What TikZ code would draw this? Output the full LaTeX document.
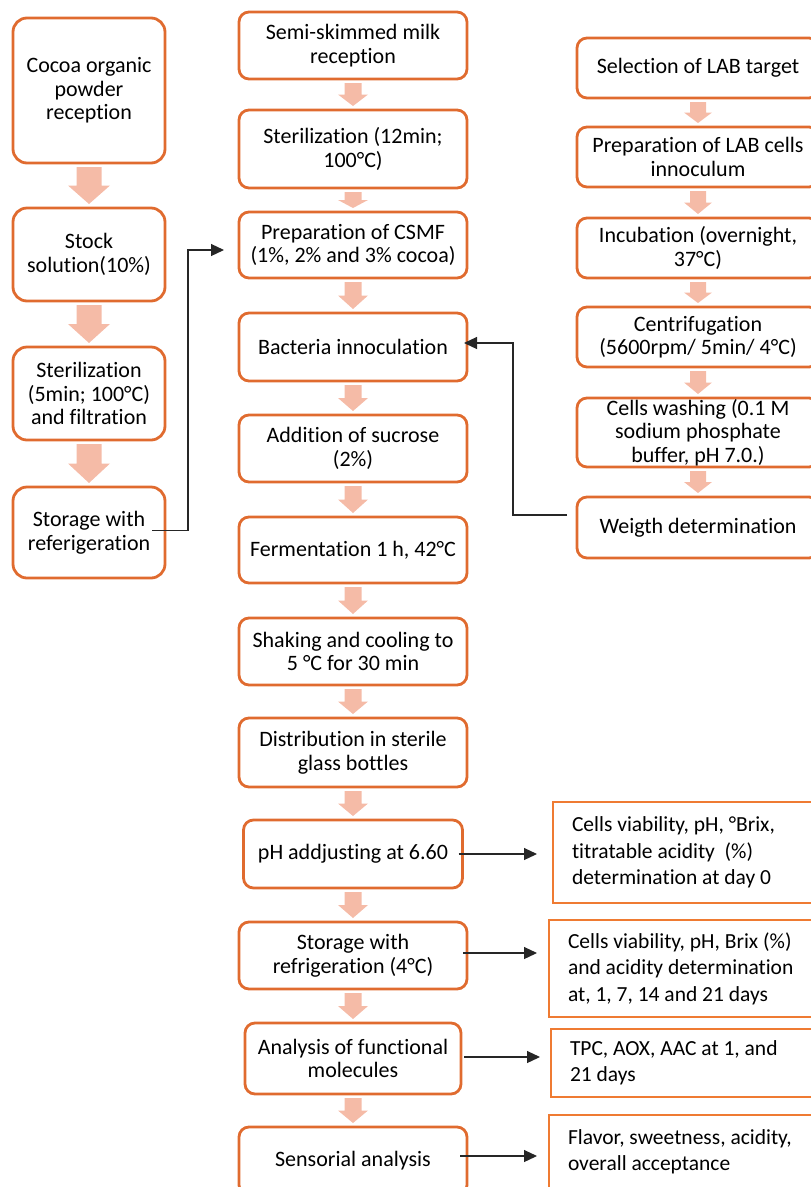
\documentclass[tikz,border=0pt]{standalone}
\usepackage{fontspec}
\setmainfont{Carlito}[Ligatures=NoCommon]
\usetikzlibrary{arrows.meta, positioning, calc}
\definecolor{boxorange}{HTML}{E06B2F}
\definecolor{resorange}{HTML}{EF7B32}
\definecolor{arrowpink}{HTML}{F5BBA7}

% pink block arrow from #1 down to #2, shaft half width #3, head half width #4
\newcommand{\pinkdown}[4]{%
  \coordinate (arrtop) at ($(#2.north |- #1.south)+(0,-4)$);
  \coordinate (arrtip) at ($(#2.north)+(0,4)$);
  \coordinate (arrmid) at ($(arrtop)!0.5!(arrtip)$);
  \fill[arrowpink] ($(arrtop)+(-#3,0)$) -- ($(arrtop)+(#3,0)$) -- ($(arrmid)+(#3,0)$)
    -- ($(arrmid)+(#4,0)$) -- (arrtip) -- ($(arrmid)+(-#4,0)$) -- ($(arrmid)+(-#3,0)$) -- cycle;
}

\begin{document}
\begin{tikzpicture}[x=1pt, y=1pt,
    stepbox/.style={draw=boxorange, line width=2.8pt, rounded corners=10pt, align=center, inner sep=0pt, outer sep=0pt, font=\fontsize{22pt}{23.5pt}\selectfont},
    leftbox/.style={stepbox, minimum width=152pt, rounded corners=14pt},
    midbox/.style={stepbox, minimum width=228pt},
    labbox/.style={stepbox, minimum width=242pt},
    resbox/.style={draw=resorange, line width=2.8pt, align=left, anchor=west, inner xsep=19pt, inner ysep=0pt, outer sep=0pt, text width=242pt,
        font=\fontsize{21.5pt}{26.5pt}\selectfont, execute at begin node={\spaceskip=0pt\xspaceskip=0pt}},
    link/.style={draw=black!85, line width=1.2pt, -{Triangle[length=13pt, width=12pt]}}]
    \useasboundingbox (0,0) rectangle (811,-1187);
    \clip (0,0) rectangle (811,-1187);

    % cocoa column
    \node[leftbox, minimum height=145pt] (cocoa) at (89,-90.5) {Cocoa organic\\powder\\reception};
    \node[leftbox, minimum height=93pt, below=45pt of cocoa] (stock) {Stock\\solution(10\%)};
    \node[leftbox, minimum height=93pt, below=46pt of stock] (sterilL) {Sterilization\\(5min; 100°C)\\and filtration};
    \node[leftbox, minimum height=91pt, below=47pt of sterilL] (storeL) {Storage with\\referigeration};

    % milk column
    \node[midbox, minimum height=67pt] (milk) at (353,-45.5) {Semi-skimmed milk\\reception};
    \node[midbox, minimum height=78pt, below=31pt of milk] (sterilM) {Sterilization (12min;\\100°C)};
    \node[midbox, minimum height=66pt, below=24pt of sterilM] (csmf) {Preparation of CSMF\\(1\%, 2\% and 3\% cocoa)};
    \node[midbox, minimum height=68pt, below=35pt of csmf] (inoc) {Bacteria innoculation};
    \node[midbox, minimum height=67pt, below=34pt of inoc] (sucrose) {Addition of sucrose\\(2\%)};
    \node[midbox, minimum height=66pt, below=35pt of sucrose] (ferment) {Fermentation 1 h, 42°C};
    \node[midbox, minimum height=67pt, below=35pt of ferment] (cooling) {Shaking and cooling to\\5 °C for 30 min};
    \node[midbox, minimum height=69pt, below=33pt of cooling] (bottles) {Distribution in sterile\\glass bottles};
    \node[midbox, minimum width=219pt, minimum height=68pt, below=33pt of bottles] (phadj) {pH addjusting at 6.60};
    \node[midbox, minimum height=67pt, below=34pt of phadj] (storeM) {Storage with\\refrigeration (4°C)};
    \node[midbox, minimum width=216pt, minimum height=71pt, below=34pt of storeM] (funct) {Analysis of functional\\molecules};
    \node[midbox, minimum height=68pt, below=33pt of funct] (sensory) {Sensorial analysis};

    % LAB column
    \node[labbox, minimum height=60pt] (select) at (698,-68) {Selection of LAB target};
    \node[labbox, minimum height=60pt, below=29pt of select] (prep) {Preparation of LAB cells\\innoculum};
    \node[labbox, minimum height=60pt, below=31pt of prep] (incub) {Incubation (overnight,\\37°C)};
    \node[labbox, minimum height=60pt, below=29pt of incub] (centri) {Centrifugation\\(5600rpm/ 5min/ 4°C)};
    \node[labbox, minimum height=69pt, below=31pt of centri] (wash) {Cells washing (0.1 M\\sodium phosphate\\buffer, pH 7.0.)};
    \node[labbox, minimum height=61pt, below=30pt of wash] (weight) {Weigth determination};

    % analyses
    \node[resbox, minimum height=101pt] (day0) at (553,-852.5) {Cells viability, pH, °Brix,\\titratable acidity\ \ (\%)\\determination at day 0};
    \node[resbox, minimum height=97pt] (days21) at (549,-968.5) {Cells viability, pH, Brix (\%)\\and acidity determination\\at, 1, 7, 14 and 21 days};
    \node[resbox, minimum height=68pt] (aox) at (551,-1063) {TPC, AOX, AAC at 1, and\\21 days};
    \node[resbox, minimum height=74pt] (sense) at (549,-1152) {Flavor, sweetness, acidity,\\overall acceptance};

    % block arrows
    \foreach \a/\b in {cocoa/stock, stock/sterilL, sterilL/storeL}
        {\pinkdown{\a}{\b}{12.5}{21}}
    \foreach \a/\b in {milk/sterilM, sterilM/csmf, csmf/inoc, inoc/sucrose, sucrose/ferment, ferment/cooling, cooling/bottles, bottles/phadj, phadj/storeM, storeM/funct, funct/sensory}
        {\pinkdown{\a}{\b}{8.5}{15}}
    \foreach \a/\b in {select/prep, prep/incub, incub/centri, centri/wash, wash/weight}
        {\pinkdown{\a}{\b}{8}{14}}

    % connectors
    \draw[link] ([xshift=-13pt,yshift=2pt]storeL.east) -- ++(36,0) |- ([xshift=-15pt,yshift=-5pt]csmf.west);
    \draw[link] ([xshift=-10pt,yshift=12.5pt]weight.west) -- ++(-54,0) |- ([xshift=-3pt,yshift=4pt]inoc.east);
    \draw[link] ([xshift=-4pt]phadj.east) -- ([xshift=-16pt]phadj.east -| day0.west);
    \draw[link] ([xshift=-4pt,yshift=2.5pt]storeM.east) -- ([xshift=-12pt,yshift=2.5pt]storeM.east -| days21.west);
    \draw[link] ([xshift=3pt,yshift=1.5pt]funct.east) -- ([xshift=-11pt,yshift=1.5pt]funct.east -| aox.west);
    \draw[link] ([xshift=-7pt,yshift=5pt]sensory.east) -- ([xshift=-12pt,yshift=5pt]sensory.east -| sense.west);
\end{tikzpicture}
\end{document}
